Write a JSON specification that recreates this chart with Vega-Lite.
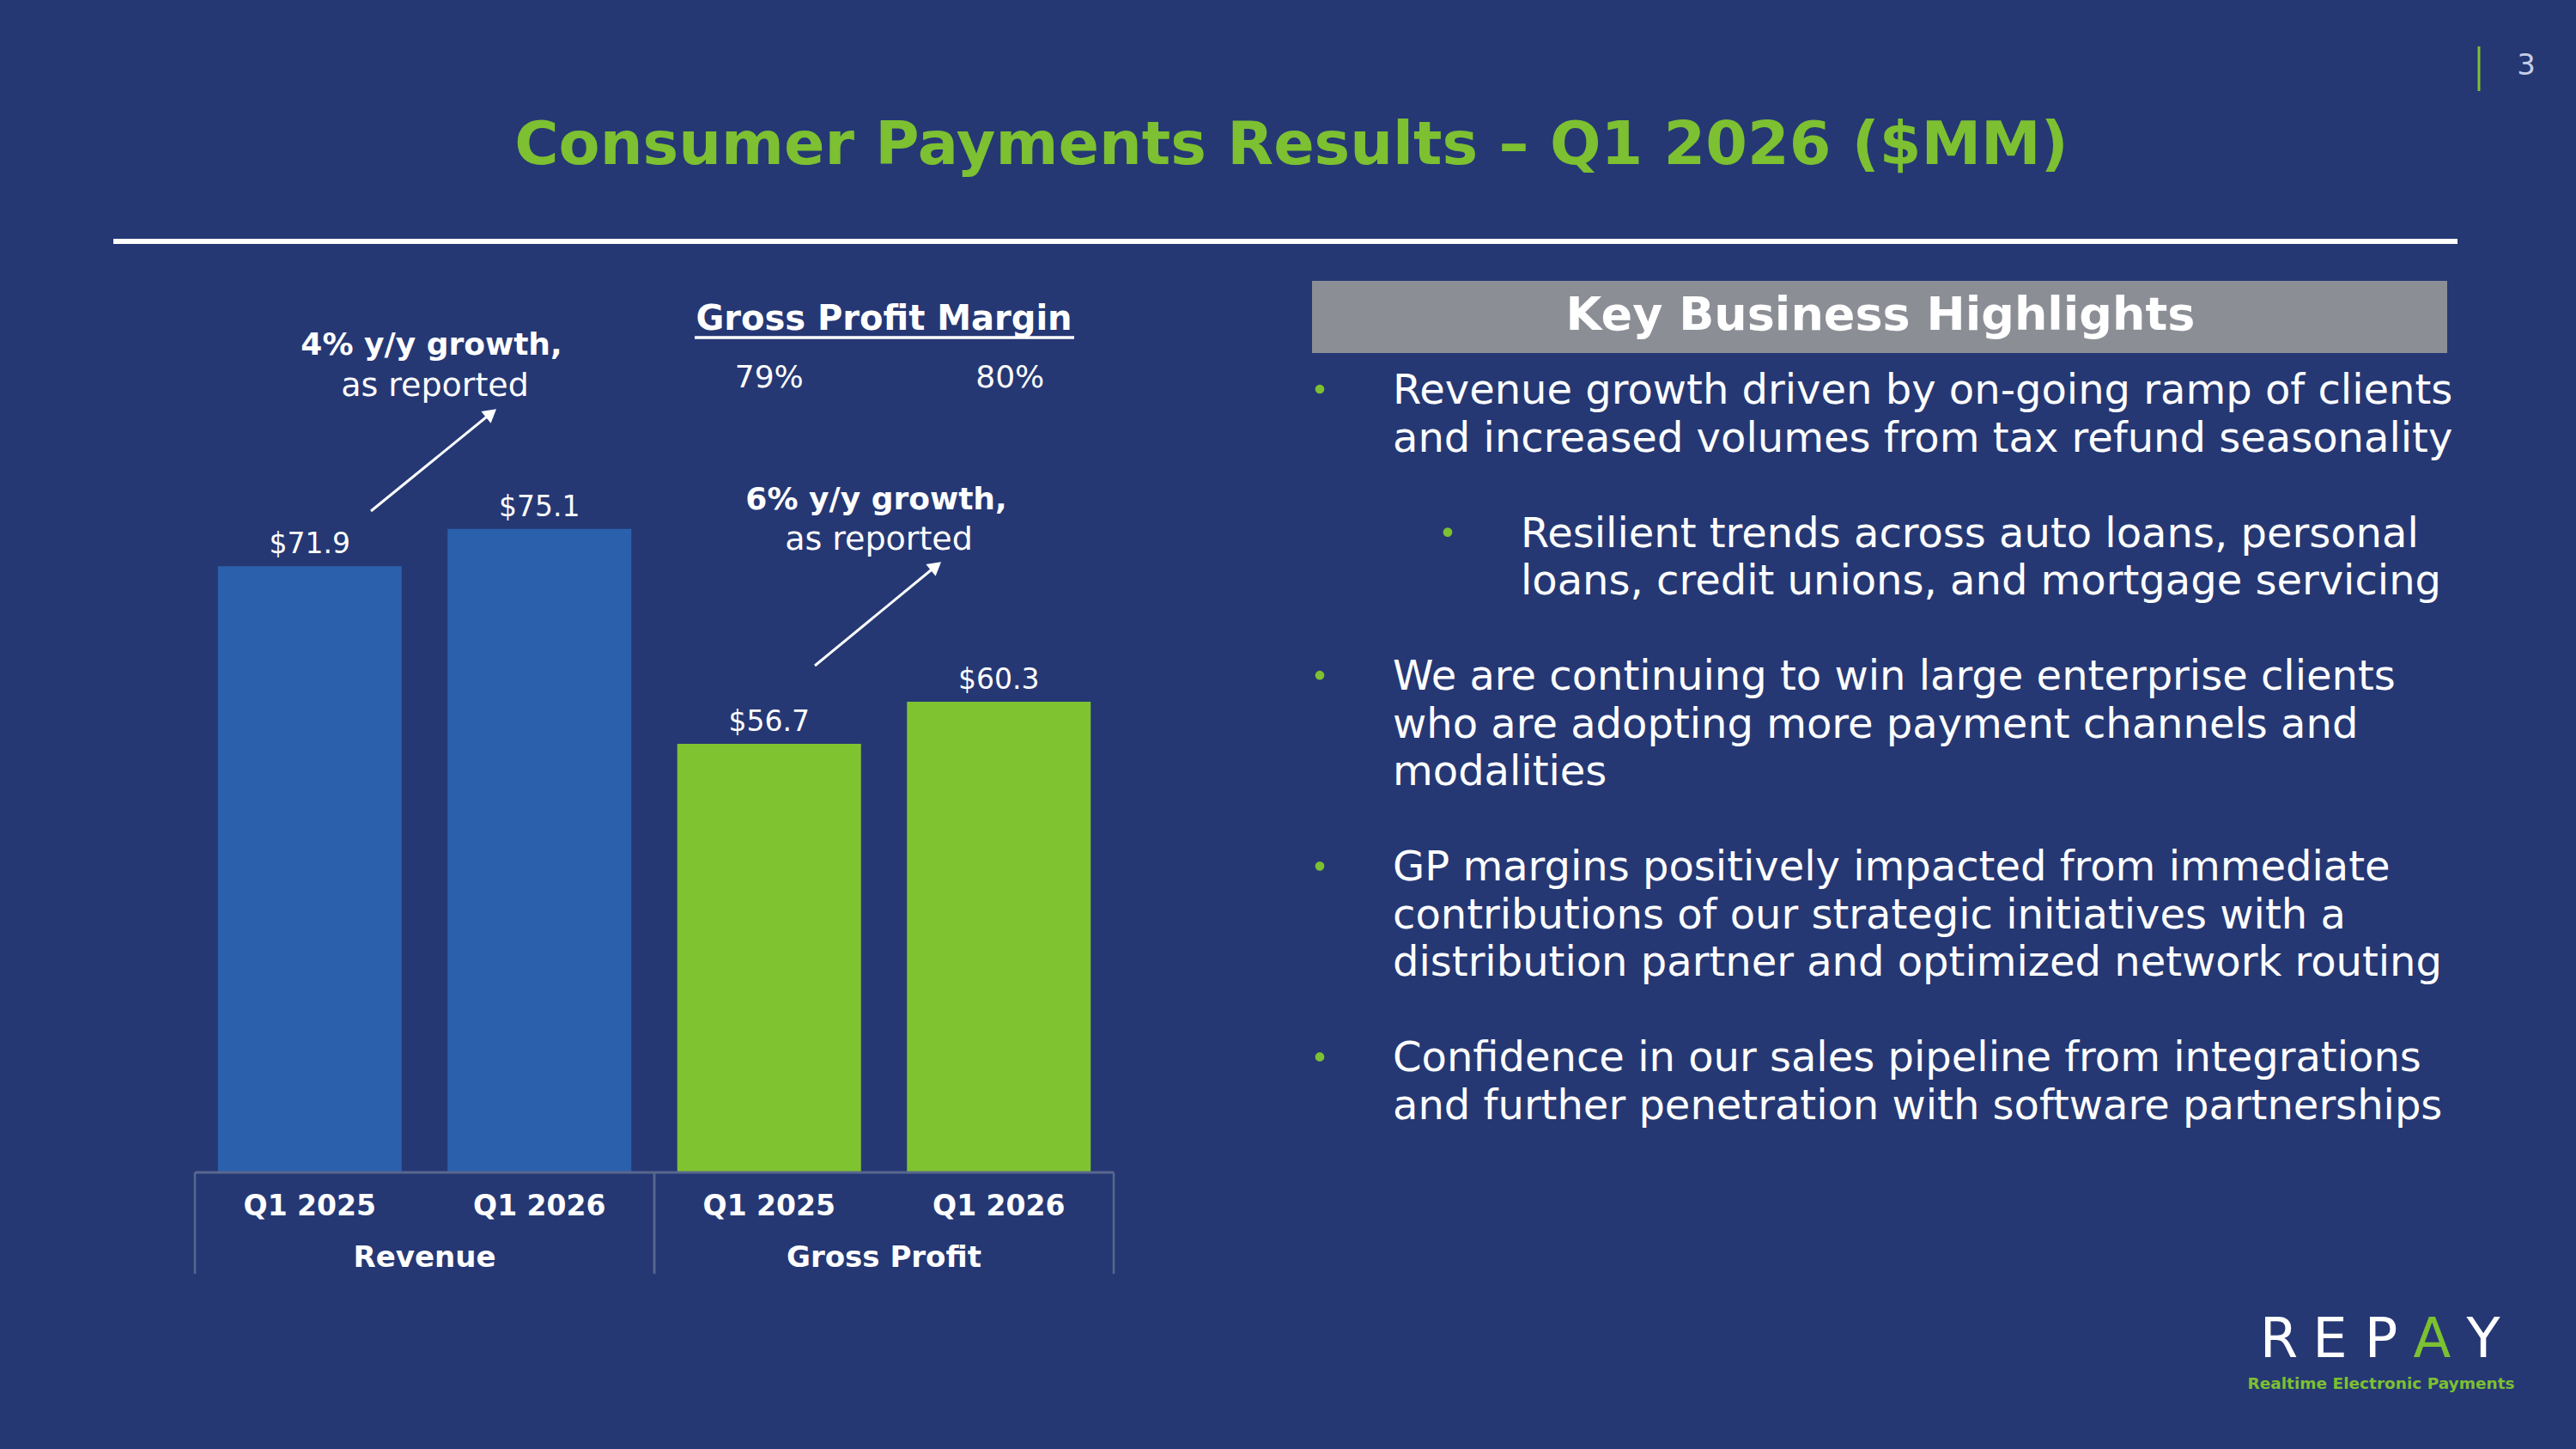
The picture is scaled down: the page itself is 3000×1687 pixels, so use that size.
{
  "$schema": "https://vega.github.io/schema/vega-lite/v6.json",
  "width": 3000,
  "height": 1687,
  "autosize": {"type": "fit", "contains": "padding"},
  "padding": 0,
  "background": "#253874",
  "config": {
    "view": {"stroke": null},
    "text": {"font": "DejaVu Sans", "color": "white"}
  },
  "datasets": {
    "results": [
      {"bar": "Revenue Q1 2025", "group": "Revenue", "quarter": "Q1 2025", "value": 71.9},
      {"bar": "Revenue Q1 2026", "group": "Revenue", "quarter": "Q1 2026", "value": 75.1},
      {"bar": "Gross Profit Q1 2025", "group": "Gross Profit", "quarter": "Q1 2025", "value": 56.7, "margin": 0.79},
      {"bar": "Gross Profit Q1 2026", "group": "Gross Profit", "quarter": "Q1 2026", "value": 60.3, "margin": 0.80}
    ],
    "groups": [
      {"group": "Revenue", "growth": "4% y/y growth,", "basis": "as reported"},
      {"group": "Gross Profit", "growth": "6% y/y growth,", "basis": "as reported"}
    ],
    "highlights": [
      {"slot": "a1", "level": 1, "bullet": true, "text": "Revenue growth driven by on-going ramp of clients"},
      {"slot": "a2", "level": 1, "bullet": false, "text": "and increased volumes from tax refund seasonality"},
      {"slot": "b1", "level": 2, "bullet": true, "text": "Resilient trends across auto loans, personal"},
      {"slot": "b2", "level": 2, "bullet": false, "text": "loans, credit unions, and mortgage servicing"},
      {"slot": "c1", "level": 1, "bullet": true, "text": "We are continuing to win large enterprise clients"},
      {"slot": "c2", "level": 1, "bullet": false, "text": "who are adopting more payment channels and"},
      {"slot": "c3", "level": 1, "bullet": false, "text": "modalities"},
      {"slot": "d1", "level": 1, "bullet": true, "text": "GP margins positively impacted from immediate"},
      {"slot": "d2", "level": 1, "bullet": false, "text": "contributions of our strategic initiatives with a"},
      {"slot": "d3", "level": 1, "bullet": false, "text": "distribution partner and optimized network routing"},
      {"slot": "e1", "level": 1, "bullet": true, "text": "Confidence in our sales pipeline from integrations"},
      {"slot": "e2", "level": 1, "bullet": false, "text": "and further penetration with software partnerships"}
    ],
    "logo": [
      {"ch": "R"}, {"ch": "E"}, {"ch": "P"}, {"ch": "A"}, {"ch": "Y"}
    ]
  },
  "layer": [
    {
      "data": {"values": [{}]},
      "mark": {"type": "text", "align": "center", "baseline": "alphabetic", "fontSize": 70, "fontWeight": "bold", "color": "#7DC031"},
      "encoding": {"x": {"value": 1504}, "y": {"value": 191}, "text": {"value": "Consumer Payments Results – Q1 2026 ($MM)"}}
    },
    {
      "data": {"values": [{}]},
      "mark": {"type": "rule", "color": "white", "strokeWidth": 6},
      "encoding": {"x": {"value": 132}, "x2": {"value": 2862}, "y": {"value": 281}}
    },
    {
      "data": {"values": [{}]},
      "mark": {"type": "rule", "color": "#7DC031", "strokeWidth": 3},
      "encoding": {"x": {"value": 2887}, "y": {"value": 54}, "y2": {"value": 106}}
    },
    {
      "data": {"values": [{}]},
      "mark": {"type": "text", "align": "center", "baseline": "middle", "fontSize": 34, "color": "#C8CEE6"},
      "encoding": {"x": {"value": 2942}, "y": {"value": 77}, "text": {"value": "3"}}
    },
    {
      "data": {"name": "groups"},
      "encoding": {
        "x": {
          "field": "group",
          "type": "nominal",
          "scale": {"domain": ["Revenue", "Gross Profit"], "range": [227, 1297], "paddingInner": 0, "paddingOuter": 0},
          "axis": null
        }
      },
      "layer": [
        {
          "mark": {"type": "rule", "color": "#59678E", "strokeWidth": 2.5},
          "encoding": {
            "x": {"field": "group", "type": "nominal", "bandPosition": 0},
            "y": {"value": 1365},
            "y2": {"value": 1483}
          }
        },
        {
          "mark": {"type": "rule", "color": "#59678E", "strokeWidth": 2.5},
          "encoding": {
            "x": {"field": "group", "type": "nominal", "bandPosition": 1},
            "y": {"value": 1365},
            "y2": {"value": 1483}
          }
        },
        {
          "mark": {"type": "text", "align": "center", "baseline": "alphabetic", "fontSize": 34, "fontWeight": "bold"},
          "encoding": {
            "y": {"value": 1475},
            "text": {"field": "group", "type": "nominal"}
          }
        },
        {
          "transform": [{"filter": "datum.group === 'Gross Profit'"}],
          "mark": {"type": "text", "align": "center", "baseline": "alphabetic", "fontSize": 40, "fontWeight": "bold"},
          "encoding": {
            "y": {"value": 384},
            "text": {"value": "Gross Profit Margin"}
          }
        },
        {
          "transform": [{"filter": "datum.group === 'Revenue'"}],
          "mark": {"type": "text", "align": "center", "baseline": "middle", "fontSize": 36, "fontWeight": "bold", "dx": 8},
          "encoding": {
            "y": {"value": 402},
            "text": {"field": "growth", "type": "nominal"}
          }
        },
        {
          "transform": [{"filter": "datum.group === 'Revenue'"}],
          "mark": {"type": "text", "align": "center", "baseline": "middle", "fontSize": 38, "dx": 12},
          "encoding": {
            "y": {"value": 450},
            "text": {"field": "basis", "type": "nominal"}
          }
        },
        {
          "transform": [{"filter": "datum.group === 'Gross Profit'"}],
          "mark": {"type": "text", "align": "center", "baseline": "middle", "fontSize": 36, "fontWeight": "bold", "dx": -9},
          "encoding": {
            "y": {"value": 582},
            "text": {"field": "growth", "type": "nominal"}
          }
        },
        {
          "transform": [{"filter": "datum.group === 'Gross Profit'"}],
          "mark": {"type": "text", "align": "center", "baseline": "middle", "fontSize": 38, "dx": -6},
          "encoding": {
            "y": {"value": 629},
            "text": {"field": "basis", "type": "nominal"}
          }
        }
      ]
    },
    {
      "data": {"name": "results"},
      "encoding": {
        "x": {
          "field": "bar",
          "type": "nominal",
          "sort": null,
          "scale": {"range": [227, 1297], "paddingInner": 0.2, "paddingOuter": 0.1},
          "axis": null
        }
      },
      "layer": [
        {
          "mark": {"type": "bar"},
          "encoding": {
            "y": {
              "field": "value",
              "type": "quantitative",
              "scale": {"domain": [20, 80], "range": [1365, 549], "zero": false, "nice": false},
              "axis": null
            },
            "y2": {"datum": 20},
            "color": {
              "field": "group",
              "type": "nominal",
              "scale": {"domain": ["Revenue", "Gross Profit"], "range": ["#2B61AC", "#80C331"]},
              "legend": null
            }
          }
        },
        {
          "mark": {"type": "text", "align": "center", "baseline": "alphabetic", "dy": -15, "fontSize": 33},
          "encoding": {
            "y": {"field": "value", "type": "quantitative"},
            "text": {"field": "value", "type": "quantitative", "format": "$.1f"}
          }
        },
        {
          "mark": {"type": "text", "align": "center", "baseline": "alphabetic", "fontSize": 33, "fontWeight": "bold"},
          "encoding": {
            "y": {"value": 1415},
            "text": {"field": "quarter", "type": "nominal"}
          }
        },
        {
          "transform": [{"filter": "isValid(datum.margin) && datum.quarter === 'Q1 2025'"}],
          "mark": {"type": "text", "align": "center", "baseline": "alphabetic", "fontSize": 36},
          "encoding": {
            "y": {"value": 451},
            "text": {"field": "margin", "type": "quantitative", "format": ".0%"}
          }
        },
        {
          "transform": [{"filter": "isValid(datum.margin) && datum.quarter === 'Q1 2026'"}],
          "mark": {"type": "text", "align": "center", "baseline": "alphabetic", "fontSize": 36, "dx": 13},
          "encoding": {
            "y": {"value": 451},
            "text": {"field": "margin", "type": "quantitative", "format": ".0%"}
          }
        }
      ]
    },
    {
      "data": {"values": [{}]},
      "mark": {"type": "rule", "color": "#59678E", "strokeWidth": 3},
      "encoding": {"x": {"value": 227}, "x2": {"value": 1297}, "y": {"value": 1365}}
    },
    {
      "data": {"values": [{}]},
      "mark": {"type": "rule", "color": "white", "strokeWidth": 3.5},
      "encoding": {"x": {"value": 809}, "x2": {"value": 1251}, "y": {"value": 393}}
    },
    {
      "data": {"values": [{}]},
      "mark": {"type": "rule", "color": "white", "strokeWidth": 3},
      "encoding": {"x": {"value": 432}, "y": {"value": 595}, "x2": {"value": 572}, "y2": {"value": 481}}
    },
    {
      "data": {"values": [{}]},
      "mark": {"type": "point", "shape": "triangle-up", "filled": true, "color": "white", "opacity": 1, "size": 320, "angle": 51},
      "encoding": {"x": {"value": 572}, "y": {"value": 481}}
    },
    {
      "data": {"values": [{}]},
      "mark": {"type": "rule", "color": "white", "strokeWidth": 3},
      "encoding": {"x": {"value": 949}, "y": {"value": 775}, "x2": {"value": 1090}, "y2": {"value": 659}}
    },
    {
      "data": {"values": [{}]},
      "mark": {"type": "point", "shape": "triangle-up", "filled": true, "color": "white", "opacity": 1, "size": 320, "angle": 51},
      "encoding": {"x": {"value": 1090}, "y": {"value": 659}}
    },
    {
      "data": {"values": [{}]},
      "mark": {"type": "rect", "color": "#8C8E96"},
      "encoding": {"x": {"value": 1528}, "x2": {"value": 2850}, "y": {"value": 327}, "y2": {"value": 411}}
    },
    {
      "data": {"values": [{}]},
      "mark": {"type": "text", "align": "center", "baseline": "middle", "fontSize": 54, "fontWeight": "bold"},
      "encoding": {"x": {"value": 2190}, "y": {"value": 368}, "text": {"value": "Key Business Highlights"}}
    },
    {
      "data": {"name": "highlights"},
      "mark": {"type": "text", "align": "left", "baseline": "alphabetic", "fontSize": 48},
      "encoding": {
        "x": {"field": "level", "type": "ordinal", "scale": {"type": "point", "domain": [1, 2], "range": [1622, 1771], "padding": 0}, "axis": null},
        "y": {
          "field": "slot",
          "type": "ordinal",
          "scale": {
            "type": "point",
            "domain": ["a1", "a2", "g1", "b1", "b2", "g2", "c1", "c2", "c3", "g3", "d1", "d2", "d3", "g4", "e1", "e2"],
            "range": [470, 1303],
            "padding": 0
          },
          "axis": null
        },
        "text": {"field": "text", "type": "nominal"}
      }
    },
    {
      "data": {"name": "highlights"},
      "transform": [{"filter": "datum.bullet"}],
      "mark": {"type": "point", "shape": "circle", "filled": true, "opacity": 1, "size": 115, "color": "#7DC031"},
      "encoding": {
        "x": {"field": "level", "type": "ordinal", "scale": {"type": "point", "domain": [1, 2], "range": [1537, 1686], "padding": 0}, "axis": null},
        "y": {
          "field": "slot",
          "type": "ordinal",
          "scale": {
            "type": "point",
            "domain": ["a1", "a2", "g1", "b1", "b2", "g2", "c1", "c2", "c3", "g3", "d1", "d2", "d3", "g4", "e1", "e2"],
            "range": [453, 1286],
            "padding": 0
          },
          "axis": null
        }
      }
    },
    {
      "data": {"name": "logo"},
      "mark": {"type": "text", "align": "center", "baseline": "alphabetic", "fontSize": 64},
      "encoding": {
        "x": {"field": "ch", "type": "nominal", "sort": null, "scale": {"type": "point", "domain": ["R", "E", "P", "A", "Y"], "range": [2654, 2892], "padding": 0}, "axis": null},
        "y": {"value": 1580},
        "text": {"field": "ch", "type": "nominal"},
        "color": {"condition": {"test": "datum.ch === 'A'", "value": "#7DC031"}, "value": "white"}
      }
    },
    {
      "data": {"values": [{}]},
      "mark": {"type": "text", "align": "center", "baseline": "alphabetic", "fontSize": 18.5, "fontWeight": "bold", "letterSpacing": 2.2, "color": "#7DC031"},
      "encoding": {"x": {"value": 2773}, "y": {"value": 1617}, "text": {"value": "Realtime Electronic Payments"}}
    }
  ],
  "resolve": {"scale": {"x": "independent", "y": "independent"}}
}
